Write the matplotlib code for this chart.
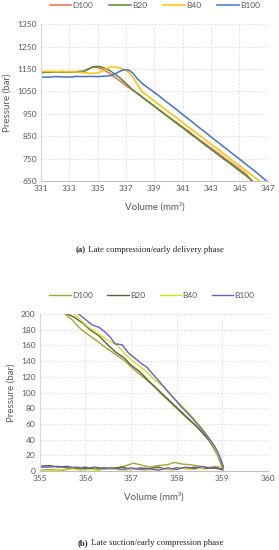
import matplotlib.pyplot as plt

plt.rcParams['font.family'] = ['Lato', 'DejaVu Sans']

# (a) late compression / early delivery
labels_a = ['D100', 'B20', 'B40', 'B100']
colors_a = ['#F26B4E', '#4F8A30', '#FFC000', '#4472C4']

v_d100_a = [331, 331.5, 332, 332.5, 333, 333.5, 334, 334.3, 334.6, 334.9, 335.2, 335.5, 335.8, 336.1,
            336.5, 337, 337.5, 338, 338.5, 339, 339.5, 340, 340.5, 341, 341.5, 342, 342.5, 343,
            343.5, 344, 344.5, 345, 345.5, 345.85]
p_d100_a = [1135, 1136, 1137, 1136, 1137, 1138, 1140, 1150, 1157, 1158, 1152, 1143, 1132, 1118,
            1100, 1076, 1054, 1030, 1007, 983, 961, 936, 914, 890, 868, 842, 820, 796,
            774, 749, 727, 703, 679, 650]

v_b20_a = [331, 331.5, 332, 332.5, 333, 333.5, 334, 334.3, 334.6, 334.9, 335.2, 335.5, 335.8, 336.1,
           336.5, 337, 337.5, 338, 338.5, 339, 339.5, 340, 340.5, 341, 341.5, 342, 342.5, 343,
           343.5, 344, 344.5, 345, 345.5, 345.9]
p_b20_a = [1133, 1136, 1137, 1138, 1137, 1138, 1139, 1148, 1158, 1162, 1160, 1153, 1145, 1132,
           1114, 1085, 1055, 1032, 1007, 984, 958, 935, 910, 887, 862, 839, 814, 791,
           767, 743, 720, 695, 672, 650]

v_b40_a = [331, 331.5, 332, 332.5, 333, 333.5, 334, 334.5, 335, 335.4, 335.7, 336, 336.3, 336.7,
           337.1, 337.5, 338.1, 338.5, 339, 339.5, 340, 340.5, 341, 341.5, 342, 342.5, 343,
           343.5, 344, 344.5, 345, 345.5, 346, 346.4]
p_b40_a = [1138, 1139, 1138, 1139, 1138, 1137, 1134, 1130, 1132, 1143, 1155, 1160, 1158, 1152,
           1140, 1112, 1050, 1031, 1006, 983, 958, 935, 910, 886, 862, 838, 813,
           790, 766, 741, 718, 694, 670, 650]

v_b100_a = [331, 331.5, 332, 332.5, 333, 333.5, 334, 334.5, 335, 335.5, 336, 336.3, 336.6, 336.9,
            337.2, 337.5, 337.8, 338.2, 338.9, 339.5, 340, 340.5, 341, 341.5, 342, 342.5, 343,
            343.5, 344, 344.5, 345, 345.5, 346, 346.5, 346.9]
p_b100_a = [1115, 1113, 1116, 1115, 1114, 1117, 1116, 1117, 1116, 1118, 1121, 1131, 1141, 1147,
            1145, 1130, 1106, 1082, 1050, 1021, 996, 972, 946, 922, 896, 872, 846,
            822, 797, 772, 748, 722, 698, 672, 650]

# (b) late suction / early compression
labels_b = ['D100', 'B20', 'B40', 'B100']
colors_b = ['#A8A236', '#56662A', '#D6DE1E', '#6A5CC8']

v_d100_b = [355.55, 355.7, 355.89, 356.1, 356.25, 356.4, 356.6, 356.75, 356.87, 357.05, 357.26, 357.45,
            357.63, 357.85, 358.05, 358.25, 358.45, 358.6, 358.72, 358.8, 358.88, 358.95, 359.0, 359.02,
            358.9, 358.7, 358.5, 358.3, 358.1, 357.95, 357.8, 357.6, 357.4, 357.2, 357.05, 356.9,
            356.7, 356.5, 356.3, 356.1, 355.9, 355.7, 355.5, 355.3, 355.0]
p_d100_b = [200, 193, 181, 172, 166, 159, 151, 145, 140, 130, 120, 111,
            100, 88, 77, 66, 56, 46, 38, 30, 22, 12, 5, 1,
            3, 4, 6, 8, 9, 11, 8, 7, 5, 8, 10, 7,
            4, 3, 2, 3, 2, 3, 1, 2, 1]

v_b20_b = [355.6, 355.75, 355.95, 356.1, 356.3, 356.45, 356.65, 356.85, 357.0, 357.2, 357.4, 357.6,
           357.8, 358.0, 358.2, 358.4, 358.55, 358.7, 358.82, 358.92, 358.98, 359.0,
           358.8, 358.6, 358.4, 358.2, 358.0, 357.8, 357.6, 357.4, 357.2, 357.0, 356.8,
           356.6, 356.4, 356.2, 356.0, 355.8, 355.6, 355.4, 355.2, 355.0]
p_b20_b = [200, 196, 188, 180, 172, 163, 152, 144, 135, 126, 114, 103,
           92, 81, 70, 59, 50, 40, 30, 20, 10, 3,
           4, 3, 5, 3, 4, 2, 5, 3, 4, 2, 5,
           3, 4, 2, 5, 3, 6, 5, 7, 6]

v_b40_b = [355.75, 355.9, 356.05, 356.25, 356.45, 356.55, 356.7, 356.85, 357.0, 357.2, 357.35, 357.5,
           357.7, 357.85, 358.05, 358.25, 358.45, 358.6, 358.72, 358.82, 358.9, 358.98, 359.02,
           358.9, 358.7, 358.5, 358.3, 358.1, 357.9, 357.7, 357.5, 357.3, 357.1, 356.9,
           356.7, 356.5, 356.3, 356.1, 355.9, 355.7, 355.5, 355.3, 355.0]
p_b40_b = [200, 192, 184, 176, 168, 165, 160, 150, 142, 133, 126, 117,
           108, 98, 87, 75, 62, 51, 40, 31, 22, 12, 4,
           6, 5, 3, 2, 4, 1, 3, 2, 1, 3, 1,
           2, 3, 1, 2, 1, 3, 2, 1, 0]

v_b100_b = [355.85, 356.0, 356.15, 356.3, 356.45, 356.55, 356.65, 356.8, 356.95, 357.1, 357.2, 357.35,
            357.5, 357.65, 357.8, 357.95, 358.1, 358.3, 358.45, 358.6, 358.72, 358.83, 358.92, 358.98,
            359.03, 359.0, 358.85, 358.7, 358.55, 358.4, 358.2, 358.0, 357.8, 357.6, 357.4, 357.2,
            357.0, 356.8, 356.6, 356.4, 356.2, 356.0, 355.8, 355.6, 355.4, 355.2, 355.0]
p_b100_b = [200, 193, 186, 183, 176, 170, 162, 161, 150, 143, 138, 132,
            122, 112, 102, 92, 82, 70, 60, 50, 41, 32, 22, 13,
            5, 2, 5, 4, 6, 3, 5, 2, 4, 1, 3, 2,
            4, 2, 4, 3, 5, 3, 5, 4, 6, 5, 5]

fig = plt.figure(figsize=(2.79, 5.5), dpi=100)
grey = '#595959'
gridc = '#D9D9D9'


def style(ax):
    ax.grid(True, color=gridc, linestyle=(0, (2, 2)), linewidth=0.6)
    for s in ['top', 'right']:
        ax.spines[s].set_visible(False)
    ax.spines['left'].set_color(gridc)
    ax.spines['bottom'].set_color('#BFBFBF')
    ax.tick_params(length=0, labelsize=6, colors=grey, pad=3)
    ax.set_ylabel('Pressure (bar)', fontsize=7, color=grey)
    ax.set_xlabel('Volume (mm³)', fontsize=7, color=grey, labelpad=7)


ax1 = fig.add_axes([0.147, 0.671, 0.813, 0.285])
series_a = [(v_d100_a, p_d100_a), (v_b20_a, p_b20_a), (v_b40_a, p_b40_a), (v_b100_a, p_b100_a)]
for (v, p), lab, c in zip(series_a, labels_a, colors_a):
    ax1.plot(v, p, color=c, lw=1.1, label=lab)
ax1.set_xlim(331, 347)
ax1.set_ylim(650, 1350)
ax1.set_xticks(range(331, 348, 2))
ax1.set_yticks(range(650, 1351, 100))
style(ax1)
ax1.legend(loc='center', bbox_to_anchor=(0.555, 0.99), bbox_transform=fig.transFigure, ncol=4,
           frameon=False, fontsize=6, handlelength=2.6, columnspacing=1.9, handletextpad=0.15,
           labelcolor=grey, borderpad=0)

ax2 = fig.add_axes([0.143, 0.1436, 0.817, 0.2854])
series_b = [(v_d100_b, p_d100_b), (v_b20_b, p_b20_b), (v_b40_b, p_b40_b), (v_b100_b, p_b100_b)]
for (v, p), lab, c in zip(series_b, labels_b, colors_b):
    ax2.plot(v, p, color=c, lw=1.0, label=lab)
ax2.set_xlim(355, 360)
ax2.set_ylim(0, 200)
ax2.set_xticks(range(355, 361))
ax2.set_yticks(range(0, 201, 20))
style(ax2)
ax2.legend(loc='center', bbox_to_anchor=(0.545, 0.462), bbox_transform=fig.transFigure, ncol=4,
           frameon=False, fontsize=6, handlelength=2.6, columnspacing=1.7, handletextpad=0.15,
           labelcolor=grey, borderpad=0)

# captions with bold panel letter
captions = [('(a)', 'Late compression/early delivery phase', 76, 250),
            ('(b)', 'Late suction/early compression phase', 78, 543)]
for letter, rest, xpix, ypix in captions:
    t1 = fig.text(xpix / 279, 1 - ypix / 550, letter, family='Liberation Serif', fontsize=6.3,
                  weight='bold', ha='left', va='center', color='#222222')
    ax1.annotate(' ' + rest, xy=(1, 0.5), xycoords=t1, ha='left', va='center',
                 family='Liberation Serif', fontsize=6.3, color='#222222', annotation_clip=False)

fig.savefig('out.png', dpi=100)
